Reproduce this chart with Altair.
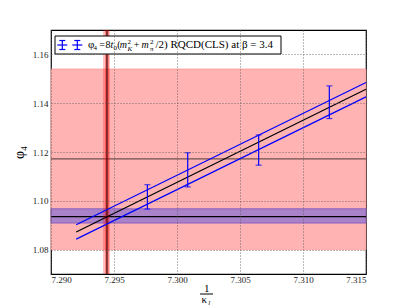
import altair as alt
import pandas as pd

# ---- data ----
x_pts = [7.29765, 7.30085, 7.30648, 7.31209]
y_pts = [1.1016, 1.1127, 1.1208, 1.1404]
y_err = [0.0050, 0.0070, 0.0062, 0.0067]

fit_x = [7.2920, 7.3150]
fit_mid = [1.0872, 1.1457]
fit_hi = [1.0902, 1.1485]
fit_lo = [1.0843, 1.1426]

phys_band = [1.0800, 1.1540]
phys_mean = [1.1172]
sym_band = [1.0909, 1.0967]
sym_mean = [1.0935]
kappa_outer = [7.29413, 7.29468]
kappa_inner = [7.29429, 7.29460]
kappa_c = [7.29444]

x_ticks = [7.290, 7.295, 7.300, 7.305, 7.310, 7.315]
y_ticks = [1.08, 1.10, 1.12, 1.14, 1.16]
x_dom = [7.290, 7.315]
y_dom = [1.07, 1.17]

W, H = 315, 244
SERIF = "Liberation Serif, Times New Roman, serif"

xs = alt.Scale(domain=x_dom, nice=False, zero=False)
ys = alt.Scale(domain=y_dom, nice=False, zero=False)
xaxis = alt.Axis(values=x_ticks, format=".3f", title=None, grid=True, ticks=False,
                 domain=False, labelFont=SERIF, labelFontSize=9, labelColor="#222",
                 labelPadding=1, gridDash=[1, 2], gridColor="#555", gridOpacity=0.8,
                 zindex=1)
yaxis = alt.Axis(values=y_ticks, format=".2f", title="φ₄", grid=True, ticks=False,
                 domain=False, labelFont=SERIF, labelFontSize=9, labelColor="#222",
                 labelPadding=3, gridDash=[1, 2], gridColor="#555", gridOpacity=0.8,
                 titleFont=SERIF, titleFontSize=14, titleFontWeight="normal",
                 titleColor="#000", titlePadding=6, zindex=1)


def X(f="x"):
    return alt.X(f"{f}:Q", scale=xs, axis=xaxis)


def Y(f="y"):
    return alt.Y(f"{f}:Q", scale=ys, axis=yaxis)


# horizontal bands
hb = pd.DataFrame({
    "x": [x_dom[0], x_dom[0]], "x2": [x_dom[1], x_dom[1]],
    "y": [phys_band[0], sym_band[0]], "y2": [phys_band[1], sym_band[1]],
    "band": ["phys", "sym"],
})
band_phys = alt.Chart(hb[hb.band == "phys"]).mark_rect(color="#ffb3b3", stroke="#ff9a9a",
                                                       strokeWidth=0.8).encode(
    x=X(), x2="x2", y=Y(), y2="y2")
band_sym = alt.Chart(hb[hb.band == "sym"]).mark_rect(color="#a982c9", stroke="#8a5fc0",
                                                     strokeWidth=1).encode(
    x=X(), x2="x2", y=Y(), y2="y2")

phys_line = alt.Chart(pd.DataFrame({"y": phys_mean})).mark_rule(
    color="#6e5050", strokeWidth=1.3).encode(y=Y())
sym_line = alt.Chart(pd.DataFrame({"y": sym_mean})).mark_rule(
    color="#000", strokeWidth=1.2).encode(y=Y())

# vertical kappa band
vk_outer = alt.Chart(pd.DataFrame({"x": [kappa_outer[0]], "x2": [kappa_outer[1]],
                                   "y": [y_dom[0]], "y2": [y_dom[1]]})).mark_rect(
    color="#ff0000", opacity=0.25).encode(x=X(), x2="x2", y=Y(), y2="y2")
vk_inner = alt.Chart(pd.DataFrame({"x": [kappa_inner[0]], "x2": [kappa_inner[1]],
                                   "y": [y_dom[0]], "y2": [y_dom[1]]})).mark_rect(
    color="#e00000", opacity=0.35).encode(x=X(), x2="x2", y=Y(), y2="y2")
vk_line = alt.Chart(pd.DataFrame({"x": kappa_c})).mark_rule(
    color="#4a0a0a", strokeWidth=1.2).encode(x=X())

# fit lines
fit = pd.DataFrame({
    "x": fit_x * 3,
    "y": fit_mid + fit_hi + fit_lo,
    "s": ["mid"] * 2 + ["hi"] * 2 + ["lo"] * 2,
})
fit_mid_l = alt.Chart(fit[fit.s == "mid"]).mark_line(color="#000", strokeWidth=1.2).encode(
    x=X(), y=Y())
fit_hi_l = alt.Chart(fit[fit.s == "hi"]).mark_line(color="#0000ff", strokeWidth=1.2).encode(
    x=X(), y=Y())
fit_lo_l = alt.Chart(fit[fit.s == "lo"]).mark_line(color="#0000ff", strokeWidth=1.2).encode(
    x=X(), y=Y())

# error bars
pts = pd.DataFrame({"x": x_pts, "y": y_pts, "e": y_err})
pts["lo"] = pts.y - pts.e
pts["hi"] = pts.y + pts.e
eb = alt.Chart(pts).mark_rule(color="#0000ff", strokeWidth=1.2).encode(
    x=X(), y=Y("lo"), y2="hi")
cap_lo = alt.Chart(pts).mark_tick(color="#0000ff", orient="horizontal", size=6,
                                  thickness=1.2).encode(x=X(), y=Y("lo"))
cap_hi = alt.Chart(pts).mark_tick(color="#0000ff", orient="horizontal", size=6,
                                  thickness=1.2).encode(x=X(), y=Y("hi"))

# legend box
leg_box = alt.Chart(pd.DataFrame({"a": [0]})).mark_rect(
    fill="white", stroke="black", strokeWidth=1).encode(
    x=alt.value(4), x2=alt.value(230), y=alt.value(6), y2=alt.value(24))

leg_marks = []
for cx in (11.3, 26.3):
    cy = 15
    leg_marks.append(alt.Chart(pd.DataFrame({"a": [0]})).mark_rule(
        color="#0000ff", strokeWidth=1.2).encode(
        x=alt.value(cx), y=alt.value(cy - 4.5), y2=alt.value(cy + 4.5)))
    leg_marks.append(alt.Chart(pd.DataFrame({"a": [0]})).mark_rule(
        color="#0000ff", strokeWidth=1.2).encode(
        x=alt.value(cx - 5), x2=alt.value(cx + 5), y=alt.value(cy)))
    for dy in (-4.5, 4.5):
        leg_marks.append(alt.Chart(pd.DataFrame({"a": [0]})).mark_rule(
            color="#0000ff", strokeWidth=1.2).encode(
            x=alt.value(cx - 3), x2=alt.value(cx + 3), y=alt.value(cy + dy)))


def txt(s, x, y, size=11, align="left", baseline="middle", style="normal"):
    return alt.Chart(pd.DataFrame({"t": [s]})).mark_text(
        font=SERIF, fontSize=size, align=align, baseline=baseline, color="#000",
        fontStyle=style).encode(
        text="t:N", x=alt.value(x), y=alt.value(y))


leg_text = [
    txt("φ", 37, 15, size=11),
    txt("4", 42.6, 17.5, size=7),
    txt("=", 51, 15, size=10, align="center"),
    txt("8", 54.5, 15, size=10),
    txt("t", 59.6, 15, size=10, style="italic"),
    txt("0", 62.6, 17.5, size=7),
    txt("(", 66.2, 15, size=10),
    txt("m", 76, 15, size=10, align="right", style="italic"),
    txt("2", 76.6, 11.5, size=7),
    txt("K", 76.6, 19, size=7, style="italic"),
    txt("+", 85.5, 15, size=10, align="center"),
    txt("m", 90.5, 15, size=10, style="italic"),
    txt("2", 99, 11.5, size=7),
    txt("π", 99, 19, size=7),
    txt("/2) RQCD(CLS) at β = 3.4", 104.5, 15),
]

# x-axis title as a fraction 1 / kappa_l
xt = [
    txt("1", 155.7, 258.5, size=11, align="center"),
    alt.Chart(pd.DataFrame({"a": [0]})).mark_rule(color="#000", strokeWidth=1).encode(
        x=alt.value(149), x2=alt.value(162), y=alt.value(264)),
    txt("κ", 153.3, 270, size=11, align="center"),
    txt("l", 158.3, 272.5, size=7, align="center", style="italic"),
]

chart = alt.layer(
    band_phys, band_sym, phys_line, sym_line, vk_outer, vk_inner, vk_line,
    fit_mid_l, fit_hi_l, fit_lo_l, eb, cap_lo, cap_hi,
    leg_box, *leg_marks, *leg_text, *xt,
).properties(
    width=W, height=H,
    autosize=alt.AutoSizeParams(type="none"),
    padding={"left": 43, "top": 22, "right": 33, "bottom": 34},
).configure_view(stroke="#000", strokeWidth=1.2)

chart.save("out.html", embed_options={"renderer": "svg", "actions": False})
